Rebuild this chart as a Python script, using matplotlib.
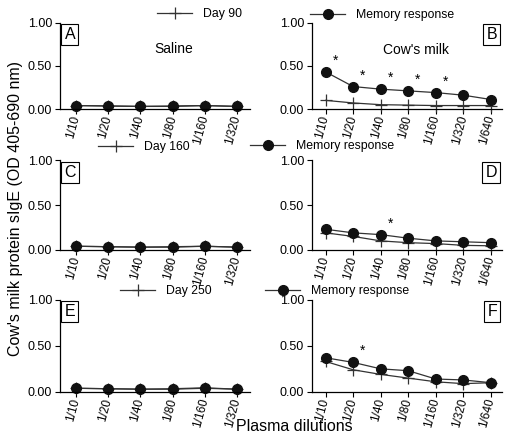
import matplotlib
matplotlib.use("Agg")
import matplotlib.pyplot as plt
from matplotlib.lines import Line2D

plt.rcParams['font.family'] = ['Liberation Sans', 'DejaVu Sans']

# dilutions
dil_saline = ['1/10', '1/20', '1/40', '1/80', '1/160', '1/320']
dil_milk = ['1/10', '1/20', '1/40', '1/80', '1/160', '1/320', '1/640']

# saline groups (A, C, E)
saline_day = [0.04, 0.035, 0.03, 0.03, 0.04, 0.03]
saline_mem_a = [0.04, 0.035, 0.03, 0.035, 0.04, 0.03]
saline_mem_c = [0.04, 0.035, 0.03, 0.035, 0.04, 0.03]
saline_mem_e = [0.04, 0.035, 0.03, 0.035, 0.045, 0.03]

# cow's milk groups (B, D, F)
day90 = [0.10, 0.07, 0.05, 0.045, 0.04, 0.04, 0.04]
mem_b = [0.43, 0.26, 0.23, 0.21, 0.19, 0.16, 0.11]
stars_b = [0, 1, 2, 3, 4]
day160 = [0.19, 0.15, 0.10, 0.08, 0.07, 0.05, 0.045]
mem_d = [0.23, 0.19, 0.17, 0.13, 0.10, 0.09, 0.08]
stars_d = [2]
day250 = [0.33, 0.24, 0.19, 0.15, 0.11, 0.09, 0.10]
mem_f = [0.37, 0.32, 0.25, 0.23, 0.14, 0.13, 0.10]
stars_f = [1]

W, H = 507, 436
fig = plt.figure(figsize=(W / 100, H / 100), dpi=100)

rows = [(0.750, 0.198), (0.427, 0.205), (0.101, 0.212)]
left_x, right_x, pw = 0.118, 0.615, 0.375

line_c = '#333333'


def style(ax, labels):
    for s in ['top', 'right']:
        ax.spines[s].set_visible(False)
    for s in ['left', 'bottom']:
        ax.spines[s].set_linewidth(0.9)
    ax.set_ylim(0, 1.0)
    ax.set_yticks([0, 0.5, 1.0])
    ax.set_yticklabels(['0.00', '0.50', '1.00'], fontsize=9)
    ax.set_xticks(range(len(labels)))
    ax.set_xticklabels(labels, rotation=75, fontsize=8.5,
                       rotation_mode='anchor', ha='right', va='center')
    ax.set_xlim(-0.5, len(labels) - 0.6)
    ax.tick_params(length=3.5, width=0.8, pad=2)
    ax.tick_params(axis='x', pad=1.5)


def draw(ax, labels, day, mem, stars=()):
    x = range(len(labels))
    ax.plot(x, day, color=line_c, lw=0.9, marker='+', ms=9, mew=0.9,
            mec=line_c, clip_on=False)
    ax.plot(x, mem, color=line_c, lw=0.9, marker='o', ms=7, mfc='#111111',
            mec='#111111', clip_on=False)
    for i in stars:
        ax.annotate('*', (i, mem[i]), xytext=(7, 3), textcoords='offset points',
                    fontsize=10, ha='center', va='bottom')


def letter(ax, s, right):
    box = dict(boxstyle='square,pad=0.2', fc='white', ec='black', lw=0.8)
    if right:
        ax.text(0.975, 0.95, s, transform=ax.transAxes, ha='right', va='top',
                fontsize=11.5, bbox=box)
    else:
        ax.text(0.025, 0.95, s, transform=ax.transAxes, ha='left', va='top',
                fontsize=11.5, bbox=box)


panels = [
    ('A', 'B', saline_day, saline_mem_a, day90, mem_b, stars_b),
    ('C', 'D', saline_day, saline_mem_c, day160, mem_d, stars_d),
    ('E', 'F', saline_day, saline_mem_e, day250, mem_f, stars_f),
]

axes = []
for (b, h), (la, ra, sd, sm, md, mm, st) in zip(rows, panels):
    axl = fig.add_axes([left_x, b, pw, h])
    axr = fig.add_axes([right_x, b, pw, h])
    style(axl, dil_saline)
    style(axr, dil_milk)
    draw(axl, dil_saline, sd, sm)
    draw(axr, dil_milk, md, mm, st)
    letter(axl, la, False)
    letter(axr, ra, True)
    axes.append((axl, axr))

axes[0][0].text(0.6, 0.70, 'Saline', transform=axes[0][0].transAxes,
                ha='center', va='center', fontsize=10)
axes[0][1].text(0.55, 0.68, "Cow's milk", transform=axes[0][1].transAxes,
                ha='center', va='center', fontsize=10)

# legends
day_h = Line2D([], [], color=line_c, lw=0.9, marker='+', ms=9, mew=0.9)
mem_h = Line2D([], [], color=line_c, lw=0.9, marker='o', ms=7,
               mfc='#111111', mec='#111111')
legs = [
    ('Day 90', 157, 14, 310, 15),
    ('Day 160', 98, 147, 250, 146),
    ('Day 250', 120, 291, 265, 291),
]
for lab, dx, dy, mx, my in legs:
    for hnd, txt, x0, y0 in [(day_h, lab, dx, dy), (mem_h, 'Memory response', mx, my)]:
        fig.legend([hnd], [txt], loc='center left',
                   bbox_to_anchor=(x0 / W, 1 - y0 / H), frameon=False,
                   fontsize=8.8, handlelength=2.9, handletextpad=0.9,
                   borderpad=0, borderaxespad=0)

fig.text(16 / W, 1 - 208 / H, "Cow's milk protein sIgE (OD 405-690 nm)",
         rotation=90, ha='center', va='center', fontsize=11.5)
fig.text(294 / W, 1 - 426 / H, 'Plasma dilutions', ha='center', va='center',
         fontsize=11.5)

fig.savefig('out.png', dpi=100)
